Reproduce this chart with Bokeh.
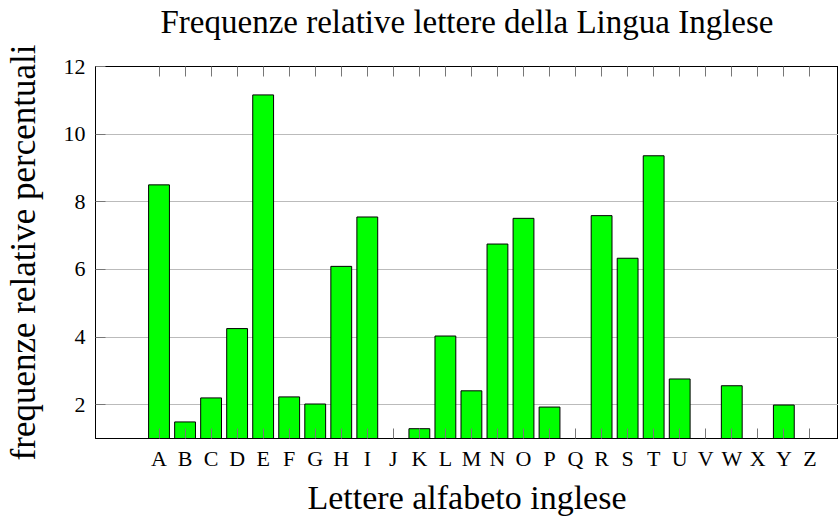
from bokeh.plotting import figure
from bokeh.models import FixedTicker, LinearAxis, Range1d
from bokeh.embed import file_html
from bokeh.resources import INLINE

letters = list("ABCDEFGHIJKLMNOPQRSTUVWXYZ")
freq = [8.50, 1.49, 2.20, 4.25, 11.16, 2.23, 2.02, 6.09, 7.55, 0.15, 1.29, 4.03, 2.41,
        6.75, 7.51, 1.93, 0.10, 7.59, 6.33, 9.36, 2.76, 0.98, 2.56, 0.15, 1.99, 0.08]
y_ticks = [2, 4, 6, 8, 10, 12]
title_text = "Frequenze relative lettere della Lingua Inglese"
x_label = "Lettere alfabeto inglese"
y_label = "frequenze relative percentuali"

FONT = "Liberation Serif"
xs = list(range(len(letters)))

p = figure(width=838, height=518, output_backend="svg", toolbar_location=None,
           x_range=Range1d(-2.44, 26.1), y_range=Range1d(1, 12),
           min_border_left=95, min_border_right=0, min_border_top=66, min_border_bottom=80)

p.vbar(x=xs, top=freq, bottom=0, width=0.8, fill_color="#00ff00",
       line_color="black", line_width=1)

p.outline_line_color = "black"
p.outline_line_width = 1

# x axis
xa = p.xaxis[0]
xa.ticker = FixedTicker(ticks=xs)
xa.major_label_overrides = {i: l for i, l in enumerate(letters)}
xa.major_tick_in = 10
xa.major_tick_out = 0
xa.minor_tick_in = 0
xa.minor_tick_out = 0
xa.major_tick_line_color = "#777777"
xa.major_label_text_font = FONT
xa.major_label_text_font_size = "22px"
xa.major_label_text_color = "black"
xa.major_label_standoff = 7
xa.axis_label = x_label
xa.axis_label_text_font = FONT
xa.axis_label_text_font_size = "34px"
xa.axis_label_text_font_style = "normal"
xa.axis_label_text_color = "black"
xa.axis_label_standoff = 5
xa.axis_line_color = "black"

# top axis: ticks without labels, carries the chart title
ta = LinearAxis(ticker=FixedTicker(ticks=xs), major_tick_in=10, major_tick_out=0,
                minor_tick_in=0, minor_tick_out=0, major_label_text_color=None,
                major_label_text_font_size="1px",
                major_label_standoff=0, major_tick_line_color="#777777",
                axis_line_color="black",
                axis_label=title_text, axis_label_text_font=FONT,
                axis_label_text_font_size="33px", axis_label_text_font_style="normal",
                axis_label_text_color="black", axis_label_standoff=27)
p.add_layout(ta, "above")

# y axis
ya = p.yaxis[0]
ya.ticker = FixedTicker(ticks=y_ticks)
ya.major_tick_in = 10
ya.major_tick_out = 0
ya.minor_tick_in = 0
ya.minor_tick_out = 0
ya.major_tick_line_color = "#777777"
ya.major_label_text_font = FONT
ya.major_label_text_font_size = "22px"
ya.major_label_text_color = "black"
ya.major_label_standoff = 10
ya.axis_label = y_label
ya.axis_label_text_font = FONT
ya.axis_label_text_font_size = "35px"
ya.axis_label_text_font_style = "normal"
ya.axis_label_text_color = "black"
ya.axis_label_standoff = 18
ya.axis_line_color = "black"

p.xgrid.grid_line_color = None
p.ygrid.ticker = FixedTicker(ticks=[2, 4, 6, 8, 10])
p.ygrid.grid_line_color = "#bbbbbb"
p.ygrid.grid_line_width = 1

open("out.html", "w").write(file_html(p, INLINE))
